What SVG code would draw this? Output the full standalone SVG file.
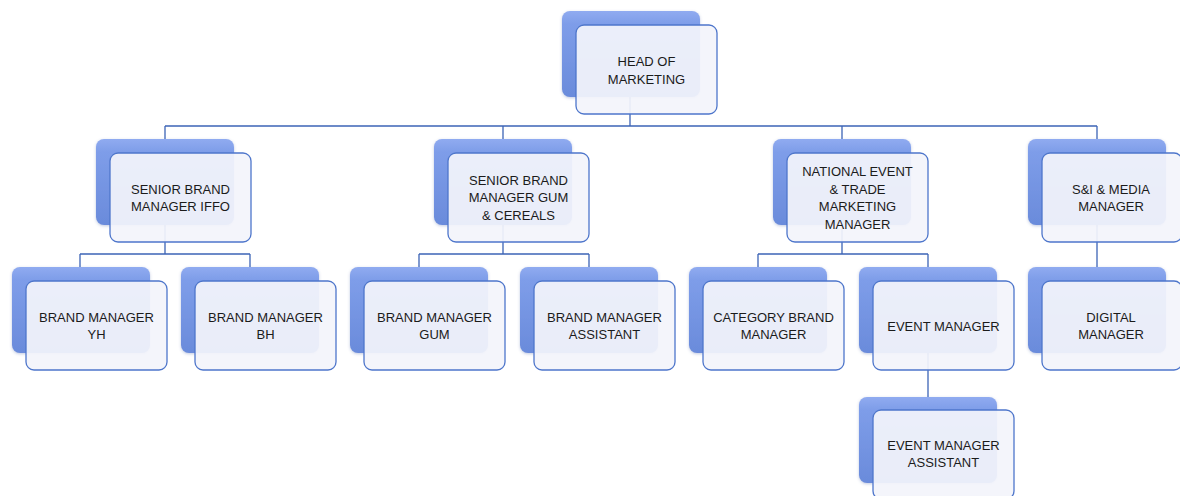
<svg xmlns="http://www.w3.org/2000/svg" width="1180" height="496" viewBox="0 0 1180 496">
<defs>
<linearGradient id="bk" x1="0" y1="0" x2="0" y2="1">
<stop offset="0" stop-color="#90abf0"/>
<stop offset="0.15" stop-color="#7e9de9"/>
<stop offset="1" stop-color="#6a8bdb"/>
</linearGradient>
<filter id="sh" x="-10%" y="-10%" width="120%" height="120%">
<feGaussianBlur in="SourceAlpha" stdDeviation="1.5"/>
<feOffset dx="0" dy="1" result="b"/>
<feFlood flood-color="#4a63a8" flood-opacity="0.35"/>
<feComposite in2="b" operator="in"/>
<feMerge><feMergeNode/><feMergeNode in="SourceGraphic"/></feMerge>
</filter>
<style>
.back{fill:url(#bk);filter:url(#sh)}
.front{fill:#f3f4fb;fill-opacity:0.93;stroke:#4e76cb;stroke-width:1.3}
.t{font-family:"Liberation Sans",Arial,sans-serif;font-size:13px;fill:#1b1b1b;text-anchor:middle}
.c{fill:none;stroke:#3c64b6;stroke-width:1.3}
</style>
</defs>
<rect width="1180" height="496" fill="#ffffff"/>
<g id="connectors">
<path class="c" d="M630 97V126M165 126H1097M165 126V139M503 126V139M842 126V139M1097 126V139"/>
<path class="c" d="M165 225V254M80 254H250M80 254V267M250 254V267"/>
<path class="c" d="M503 225V254M419 254H589M419 254V267M589 254V267"/>
<path class="c" d="M842 225V254M758 254H928M758 254V267M928 254V267"/>
<path class="c" d="M1097 225V267"/>
<path class="c" d="M928 353V397"/>
</g>
<g id="head">
<rect class="back" x="562" y="11" width="138" height="86" rx="8"/>
<rect class="front" x="576" y="25" width="141" height="89" rx="8"/>
<text class="t"><tspan x="646.5" y="66">HEAD OF</tspan><tspan x="646.5" y="83.5">MARKETING</tspan></text>
</g>
<g id="sbm-iffo">
<rect class="back" x="96" y="139" width="138" height="86" rx="8"/>
<rect class="front" x="110" y="153" width="141" height="89" rx="8"/>
<text class="t"><tspan x="180.5" y="193.5">SENIOR BRAND</tspan><tspan x="180.5" y="211">MANAGER IFFO</tspan></text>
</g>
<g id="sbm-gum">
<rect class="back" x="434" y="139" width="138" height="86" rx="8"/>
<rect class="front" x="448" y="153" width="141" height="89" rx="8"/>
<text class="t"><tspan x="518.5" y="184.5">SENIOR BRAND</tspan><tspan x="518.5" y="202">MANAGER GUM</tspan><tspan x="518.5" y="219.5">&amp; CEREALS</tspan></text>
</g>
<g id="national-event">
<rect class="back" x="773" y="139" width="138" height="86" rx="8"/>
<rect class="front" x="787" y="153" width="141" height="89" rx="8"/>
<text class="t"><tspan x="857.5" y="176">NATIONAL EVENT</tspan><tspan x="857.5" y="193.5">&amp; TRADE</tspan><tspan x="857.5" y="211">MARKETING</tspan><tspan x="857.5" y="228.5">MANAGER</tspan></text>
</g>
<g id="si-media">
<rect class="back" x="1028" y="139" width="138" height="86" rx="8"/>
<rect class="front" x="1042" y="153" width="140" height="89" rx="8"/>
<text class="t"><tspan x="1111" y="193.5">S&amp;I &amp; MEDIA</tspan><tspan x="1111" y="211">MANAGER</tspan></text>
</g>
<g id="bm-yh">
<rect class="back" x="12" y="267" width="138" height="86" rx="8"/>
<rect class="front" x="26" y="281" width="141" height="89" rx="8"/>
<text class="t"><tspan x="96.5" y="321.5">BRAND MANAGER</tspan><tspan x="96.5" y="339">YH</tspan></text>
</g>
<g id="bm-bh">
<rect class="back" x="181" y="267" width="138" height="86" rx="8"/>
<rect class="front" x="195" y="281" width="141" height="89" rx="8"/>
<text class="t"><tspan x="265.5" y="321.5">BRAND MANAGER</tspan><tspan x="265.5" y="339">BH</tspan></text>
</g>
<g id="bm-gum">
<rect class="back" x="350" y="267" width="138" height="86" rx="8"/>
<rect class="front" x="364" y="281" width="141" height="89" rx="8"/>
<text class="t"><tspan x="434.5" y="321.5">BRAND MANAGER</tspan><tspan x="434.5" y="339">GUM</tspan></text>
</g>
<g id="bm-assistant">
<rect class="back" x="520" y="267" width="138" height="86" rx="8"/>
<rect class="front" x="534" y="281" width="141" height="89" rx="8"/>
<text class="t"><tspan x="604.5" y="321.5">BRAND MANAGER</tspan><tspan x="604.5" y="339">ASSISTANT</tspan></text>
</g>
<g id="category-bm">
<rect class="back" x="689" y="267" width="138" height="86" rx="8"/>
<rect class="front" x="703" y="281" width="141" height="89" rx="8"/>
<text class="t"><tspan x="773.5" y="321.5">CATEGORY BRAND</tspan><tspan x="773.5" y="339">MANAGER</tspan></text>
</g>
<g id="event-manager">
<rect class="back" x="859" y="267" width="138" height="86" rx="8"/>
<rect class="front" x="873" y="281" width="141" height="89" rx="8"/>
<text class="t"><tspan x="943.5" y="330.5">EVENT MANAGER</tspan></text>
</g>
<g id="digital-manager">
<rect class="back" x="1028" y="267" width="138" height="86" rx="8"/>
<rect class="front" x="1042" y="281" width="140" height="89" rx="8"/>
<text class="t"><tspan x="1111" y="321.5">DIGITAL</tspan><tspan x="1111" y="339">MANAGER</tspan></text>
</g>
<g id="event-manager-assistant">
<rect class="back" x="859" y="397" width="138" height="86" rx="8"/>
<rect class="front" x="873" y="410" width="141" height="89" rx="8"/>
<text class="t"><tspan x="943.5" y="449.5">EVENT MANAGER</tspan><tspan x="943.5" y="467">ASSISTANT</tspan></text>
</g>
</svg>
